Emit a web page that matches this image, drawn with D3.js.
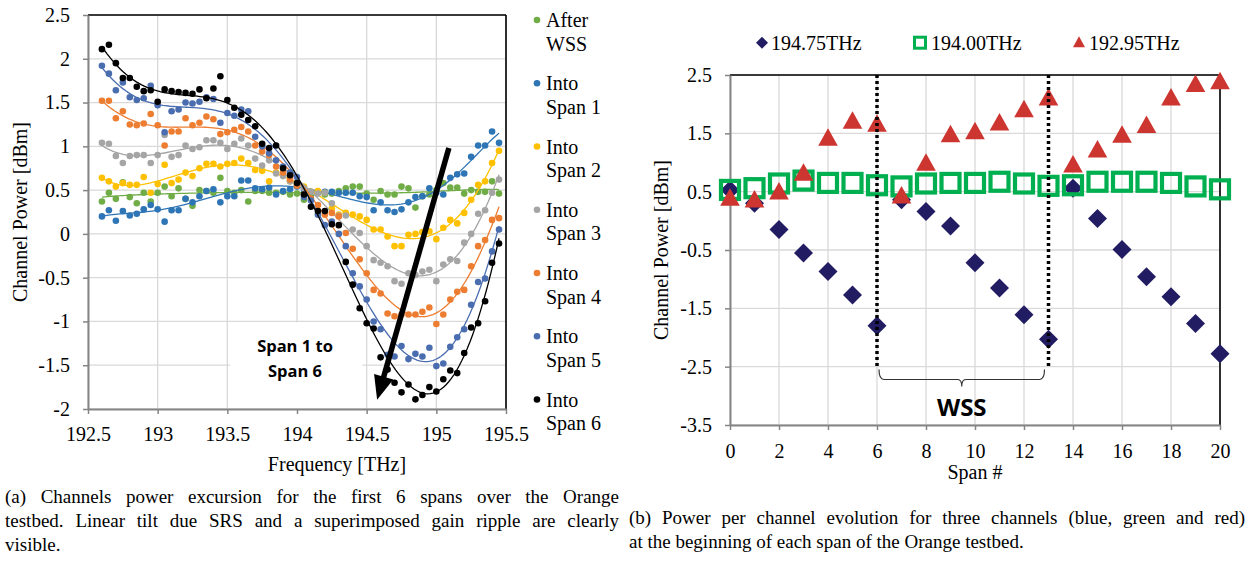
<!DOCTYPE html>
<html>
<head>
<meta charset="utf-8">
<script src="https://cdn.jsdelivr.net/npm/d3@7"></script>
<style>
  body { margin: 0; background: #fff; }
</style>
</head>
<body>
<svg id="fig" width="1250" height="562" font-family="'Liberation Serif', 'Times New Roman', serif"></svg>
<script>
// ---------- (a) power vs frequency, one value per channel ----------
var freqs = [192.60,192.65,192.70,192.75,192.80,192.85,192.90,192.95,193.00,193.05,
             193.10,193.15,193.20,193.25,193.30,193.35,193.40,193.45,193.50,193.55,
             193.60,193.65,193.70,193.75,193.80,193.85,193.90,193.95,194.00,194.05,
             194.10,194.15,194.20,194.25,194.30,194.35,194.40,194.45,194.50,194.55,
             194.60,194.65,194.70,194.75,194.80,194.85,194.90,194.95,195.00,195.05,
             195.10,195.15,195.20,195.25,195.30,195.35,195.40,195.45];

var afterWSS = [0.37,0.47,0.40,0.59,0.42,0.35,0.47,0.37,0.47,0.54, 0.43,0.52,0.40,0.32,0.50,0.49,0.47,0.64,0.49,0.47,
                0.50,0.37,0.49,0.49,0.47,0.47,0.48,0.45,0.46,0.39, 0.44,0.47,0.45,0.46,0.49,0.52,0.54,0.54,0.46,0.39,
                0.49,0.45,0.45,0.54,0.52,0.30,0.43,0.45,0.50,0.58, 0.53,0.53,0.46,0.50,0.48,0.48,0.60,0.46];
var intoSpan1 = [0.20,0.27,0.15,0.26,0.21,0.23,0.28,0.33,0.28,0.14, 0.27,0.27,0.40,0.36,0.43,0.49,0.51,0.36,0.43,0.43,
                 0.61,0.61,0.52,0.51,0.53,0.45,0.49,0.51,0.54,0.50, 0.48,0.48,0.48,0.48,0.47,0.47,0.47,0.43,0.42,0.27,
                 0.36,0.27,0.25,0.28,0.36,0.42,0.43,0.52,0.47,0.45, 0.64,0.68,0.69,0.88,1.01,1.01,1.17,1.04];
var intoSpan2 = [0.64,0.60,0.54,0.58,0.56,0.56,0.65,0.47,0.57,0.79, 0.58,0.62,0.70,0.66,0.75,0.80,0.80,0.77,0.80,0.81,
                 0.86,0.81,0.73,0.72,0.60,0.70,0.67,0.60,0.58,0.54, 0.48,0.49,0.47,0.29,0.22,0.24,0.22,0.20,0.16,0.05,
                 0.05,-0.03,-0.14,-0.14,-0.01,0.00,0.02,0.03,-0.06,0.07, 0.16,0.12,0.24,0.39,0.56,0.60,0.81,0.95];
var intoSpan3 = [1.04,1.03,0.89,0.81,0.89,0.90,0.90,0.81,0.90,1.13, 0.88,0.90,1.01,0.97,0.99,1.07,1.07,1.04,0.97,1.03,
                 1.09,1.01,0.86,0.78,0.84,0.69,0.66,0.60,0.57,0.52, 0.48,0.46,0.47,0.35,0.21,0.21,0.05,0.01,-0.14,-0.30,
                 -0.33,-0.37,-0.54,-0.57,-0.45,-0.47,-0.43,-0.41,-0.54,-0.35, -0.29,-0.31,-0.10,0.00,0.23,0.27,0.47,0.62];
var intoSpan4 = [1.52,1.52,1.32,1.40,1.25,1.24,1.26,1.37,1.24,1.01, 1.17,1.17,1.32,1.24,1.27,1.34,1.31,1.14,1.16,1.19,
                 1.22,1.17,1.01,0.94,0.90,0.77,0.70,0.62,0.55,0.45, 0.40,0.33,0.22,0.24,0.20,0.01,-0.17,-0.29,-0.45,-0.64,
                 -0.68,-0.91,-0.94,-0.92,-0.92,-0.92,-0.89,-0.84,-1.03,-0.92, -0.75,-0.66,-0.64,-0.37,-0.14,-0.07,0.16,0.18];
var intoSpan5 = [1.92,1.83,1.64,1.73,1.56,1.53,1.55,1.69,1.47,1.16, 1.40,1.42,1.50,1.49,1.51,1.56,1.54,1.27,1.38,1.35,
                 1.42,1.40,1.11,1.00,0.92,0.84,0.77,0.70,0.65,0.42, 0.38,0.22,0.10,0.14,0.00,-0.14,-0.45,-0.60,-0.75,-1.00,
                 -1.09,-1.38,-1.40,-1.28,-1.43,-1.37,-1.40,-1.30,-1.51,-1.48, -1.29,-1.18,-1.09,-0.81,-0.55,-0.51,-0.20,0.05];
var intoSpan6 = [2.11,2.16,1.95,1.78,1.78,1.68,1.63,1.64,1.51,1.65, 1.63,1.62,1.61,1.60,1.65,1.55,1.66,1.80,1.53,1.44,
                 1.36,1.30,1.23,1.03,0.98,1.01,0.75,0.67,0.58,0.45, 0.31,0.26,0.26,0.11,0.10,-0.32,-0.58,-0.85,-1.02,-1.08,
                 -1.41,-1.55,-1.70,-1.81,-1.72,-1.89,-1.84,-1.75,-1.80,-1.66, -1.56,-1.59,-1.36,-1.07,-1.02,-0.77,-0.33,-0.11];

var xTicksA = [192.5, 193, 193.5, 194, 194.5, 195, 195.5];
var yTicksA = [2.5, 2, 1.5, 1, 0.5, 0, -0.5, -1, -1.5, -2];

// ---------- (b) power per span for three channels ----------
var spans = [0,1,2,3,4,5,6,7,8,9,10,11,12,13,14,15,16,17,18,19,20];
var ch19475 = [0.53,0.30,-0.15,-0.55,-0.87,-1.27,-1.80,0.36,0.16,-0.09,-0.72,-1.15,-1.61,-2.03,0.56,0.04,-0.49,-0.96,-1.30,-1.76,-2.28];
var ch19400 = [0.53,0.56,0.64,0.69,0.65,0.65,0.61,0.59,0.64,0.65,0.65,0.67,0.64,0.60,0.61,0.67,0.67,0.67,0.65,0.59,0.54];
var ch19295 = [0.36,0.33,0.47,0.79,1.39,1.68,1.63,0.40,0.96,1.45,1.50,1.65,1.88,2.08,0.93,1.19,1.44,1.61,2.08,2.31,2.36];
var wssSpans = [6, 13];

var xTicksB = [0,2,4,6,8,10,12,14,16,18,20];
var yTicksB = [2.5, 1.5, 0.5, -0.5, -1.5, -2.5, -3.5];

var svg = d3.select("#fig");
svg.append("rect").attr("width", 1250).attr("height", 562).attr("fill", "#fff");

var gridCol = "#d9d9d9", axisCol = "#858585";
var serif = "'Liberation Serif', 'Times New Roman', serif";
var sans = "'Open Sans', 'Noto Sans', sans-serif";

// least squares polynomial (Excel style trendline), x normalised to [-1,1]
function polyFit(xs, ys, deg) {
  var n = deg + 1, A = [], b = [];
  for (var i = 0; i < n; i++) { A.push(new Array(n).fill(0)); b.push(0); }
  xs.forEach(function(x, k) {
    var p = [1];
    for (var j = 1; j < n; j++) p.push(p[j-1] * x);
    for (var i = 0; i < n; i++) {
      b[i] += p[i] * ys[k];
      for (var j = 0; j < n; j++) A[i][j] += p[i] * p[j];
    }
  });
  for (var c = 0; c < n; c++) {
    var piv = c;
    for (var r = c+1; r < n; r++) if (Math.abs(A[r][c]) > Math.abs(A[piv][c])) piv = r;
    var t = A[c]; A[c] = A[piv]; A[piv] = t; t = b[c]; b[c] = b[piv]; b[piv] = t;
    for (var r = c+1; r < n; r++) {
      var f = A[r][c] / A[c][c];
      for (var j = c; j < n; j++) A[r][j] -= f * A[c][j];
      b[r] -= f * b[c];
    }
  }
  var coef = new Array(n).fill(0);
  for (var r = n-1; r >= 0; r--) {
    var s = b[r];
    for (var j = r+1; j < n; j++) s -= A[r][j] * coef[j];
    coef[r] = s / A[r][r];
  }
  return coef;
}

function styleAxis(g, size) {
  g.attr("font-family", serif);
  g.select(".domain").attr("stroke", axisCol).attr("stroke-width", 2);
  g.selectAll(".tick line").attr("stroke", axisCol).attr("stroke-width", 1.5);
  g.selectAll(".tick text").attr("font-size", size).attr("fill", "#000");
}

// =================== chart (a) ===================
var xA = d3.scaleLinear().domain([192.5, 195.5]).range([88, 506]);
var yA = d3.scaleLinear().domain([-2, 2.5]).range([409, 15]);
var gA = svg.append("g");

gA.selectAll(".gxa").data(xTicksA).join("line")
  .attr("x1", d => xA(d)).attr("x2", d => xA(d))
  .attr("y1", yA(-2)).attr("y2", yA(2.5))
  .attr("stroke", gridCol).attr("stroke-width", 1.3);
gA.selectAll(".gya").data(yTicksA).join("line")
  .attr("x1", xA(192.5)).attr("x2", xA(195.5))
  .attr("y1", d => yA(d)).attr("y2", d => yA(d))
  .attr("stroke", gridCol).attr("stroke-width", 1.3);

// white box behind the annotation
gA.append("rect")
  .attr("x", xA(193.52)).attr("y", yA(-1.01))
  .attr("width", xA(194.47) - xA(193.52)).attr("height", yA(-2) - yA(-1.01) - 1)
  .attr("fill", "#fff");

gA.append("line").attr("x1", xA(192.5)).attr("x2", xA(195.5)).attr("y1", yA(2.5)).attr("y2", yA(2.5))
  .attr("stroke", "#000").attr("stroke-width", 1.6);
gA.append("line").attr("x1", xA(195.5)).attr("x2", xA(195.5)).attr("y1", yA(2.5)).attr("y2", yA(-2))
  .attr("stroke", "#000").attr("stroke-width", 1.6);

var axYA = gA.append("g").attr("transform", "translate(" + xA(192.5) + ",0)")
  .call(d3.axisLeft(yA).tickValues(yTicksA).tickSize(5).tickSizeOuter(0).tickPadding(13).tickFormat(d => String(d)));
styleAxis(axYA, 20);
var axXA = gA.append("g").attr("transform", "translate(0," + yA(-2) + ")")
  .call(d3.axisBottom(xA).tickValues(xTicksA).tickSize(5).tickSizeOuter(0).tickPadding(13).tickFormat(d => String(d)));
styleAxis(axXA, 20);

var seriesA = [
  { label: ["After", "WSS"], vals: afterWSS, color: "#70AD47" },
  { label: ["Into", "Span 1"], vals: intoSpan1, color: "#2E75B6" },
  { label: ["Into", "Span 2"], vals: intoSpan2, color: "#FFC000" },
  { label: ["Into", "Span 3"], vals: intoSpan3, color: "#A5A5A5" },
  { label: ["Into", "Span 4"], vals: intoSpan4, color: "#ED7D31" },
  { label: ["Into", "Span 5"], vals: intoSpan5, color: "#4A6DB0" },
  { label: ["Into", "Span 6"], vals: intoSpan6, color: "#000000" }
];

var fMid = 194.025, fHalf = 1.425;
var lineA = d3.line().x(d => xA(d[0])).y(d => yA(d[1]));
seriesA.forEach(function(s) {
  var g = gA.append("g");
  g.selectAll("circle").data(s.vals).join("circle")
    .attr("cx", (d, i) => xA(freqs[i])).attr("cy", d => yA(d))
    .attr("r", 3.3).attr("fill", s.color);
  var coef = polyFit(freqs.map(f => (f - fMid) / fHalf), s.vals, 6);
  var pts = d3.range(0, 151).map(function(k) {
    var f = freqs[0] + (freqs[freqs.length-1] - freqs[0]) * k / 150;
    var t = (f - fMid) / fHalf, v = 0;
    for (var j = coef.length - 1; j >= 0; j--) v = v * t + coef[j];
    return [f, v];
  });
  g.append("path").attr("d", lineA(pts)).attr("fill", "none")
    .attr("stroke", s.color).attr("stroke-width", 1.3);
});

// legend (a)
seriesA.forEach(function(s, i) {
  var cy = 20 + i * 63.25;
  gA.append("circle").attr("cx", 537).attr("cy", cy).attr("r", 3.3).attr("fill", s.color);
  gA.append("text").attr("x", 546).attr("y", cy + 7).attr("font-size", 20).text(s.label[0]);
  gA.append("text").attr("x", 546).attr("y", cy + 30.5).attr("font-size", 20).text(s.label[1]);
});

// arrow Span 1 -> Span 6
var a0 = [xA(195.09), yA(0.98)], a1 = [xA(194.575), yA(-1.895)];
var dx = a1[0] - a0[0], dy = a1[1] - a0[1], len = Math.hypot(dx, dy);
var ux = dx / len, uy = dy / len, headL = 24, headW = 10;
var hb = [a1[0] - ux * headL, a1[1] - uy * headL];
gA.append("line").attr("x1", a0[0]).attr("y1", a0[1]).attr("x2", hb[0] + ux * 2).attr("y2", hb[1] + uy * 2)
  .attr("stroke", "#000").attr("stroke-width", 5.5);
gA.append("polygon")
  .attr("points", [a1, [hb[0] - uy * headW, hb[1] + ux * headW], [hb[0] + uy * headW, hb[1] - ux * headW]]
    .map(p => p.join(",")).join(" "))
  .attr("fill", "#000");

gA.append("text").attr("x", 295).attr("y", 352).attr("text-anchor", "middle")
  .attr("font-family", sans).attr("font-weight", 700).attr("font-size", 16.5).text("Span 1 to");
gA.append("text").attr("x", 295).attr("y", 377).attr("text-anchor", "middle")
  .attr("font-family", sans).attr("font-weight", 700).attr("font-size", 16.5).text("Span 6");

gA.append("text").attr("transform", "translate(27,212) rotate(-90)").attr("text-anchor", "middle")
  .attr("font-size", 20).text("Channel Power [dBm]");
gA.append("text").attr("x", 337).attr("y", 471).attr("text-anchor", "middle")
  .attr("font-size", 20).text("Frequency [THz]");

// =================== chart (b) ===================
var xB = d3.scaleLinear().domain([0, 20]).range([730, 1220]);
var yB = d3.scaleLinear().domain([-3.5, 2.5]).range([425, 75]);
var gB = svg.append("g");

gB.selectAll(".gxb").data(xTicksB).join("line")
  .attr("x1", d => xB(d)).attr("x2", d => xB(d))
  .attr("y1", yB(-3.5)).attr("y2", yB(2.5))
  .attr("stroke", gridCol).attr("stroke-width", 1.3);
gB.selectAll(".gyb").data(yTicksB).join("line")
  .attr("x1", xB(0)).attr("x2", xB(20))
  .attr("y1", d => yB(d)).attr("y2", d => yB(d))
  .attr("stroke", gridCol).attr("stroke-width", 1.3);

gB.append("line").attr("x1", xB(0)).attr("x2", xB(20)).attr("y1", yB(2.5)).attr("y2", yB(2.5))
  .attr("stroke", "#000").attr("stroke-width", 1.6);
gB.append("line").attr("x1", xB(20)).attr("x2", xB(20)).attr("y1", yB(2.5)).attr("y2", yB(-3.5))
  .attr("stroke", "#000").attr("stroke-width", 1.6);

var axYB = gB.append("g").attr("transform", "translate(" + xB(0) + ",0)")
  .call(d3.axisLeft(yB).tickValues(yTicksB).tickSize(5).tickSizeOuter(0).tickPadding(13).tickFormat(d => String(d)));
styleAxis(axYB, 20);
var axXB = gB.append("g").attr("transform", "translate(0," + yB(-3.5) + ")")
  .call(d3.axisBottom(xB).tickValues(xTicksB).tickSize(5).tickSizeOuter(0).tickPadding(14).tickFormat(d => String(d)));
styleAxis(axXB, 20);

var navy = "#221D62", green = "#00B050", red = "#CD3530";
var diamondPath = "M0,-9.5L9.5,0L0,9.5L-9.5,0Z";
var triPath = "M0,-11.5L9.8,6L-9.8,6Z";

gB.selectAll(".dia").data(ch19475).join("path")
  .attr("d", diamondPath)
  .attr("transform", (d, i) => "translate(" + xB(spans[i]) + "," + yB(d) + ")")
  .attr("fill", navy);
gB.selectAll(".sq").data(ch19400).join("rect")
  .attr("x", (d, i) => xB(spans[i]) - 9).attr("y", d => yB(d) - 9)
  .attr("width", 18).attr("height", 18)
  .attr("fill", "none").attr("stroke", green).attr("stroke-width", 4.2);
gB.selectAll(".tri").data(ch19295).join("path")
  .attr("d", triPath)
  .attr("transform", (d, i) => "translate(" + xB(spans[i]) + "," + yB(d) + ")")
  .attr("fill", red);

// WSS positions
gB.selectAll(".wss").data(wssSpans).join("line")
  .attr("x1", d => xB(d)).attr("x2", d => xB(d))
  .attr("y1", yB(2.5)).attr("y2", yB(-2.5))
  .attr("stroke", "#000").attr("stroke-width", 3.5).attr("stroke-dasharray", "3,3");

var bl = xB(wssSpans[0]) + 2, br = xB(wssSpans[1]) - 4, bm = (bl + br) / 2;
var byT = yB(-2.55), byB = yB(-2.72);
gB.append("path")
  .attr("d", "M" + bl + "," + byT + "Q" + bl + "," + byB + " " + (bl + 5) + "," + byB +
    "L" + (bm - 4) + "," + byB + "Q" + bm + "," + byB + " " + bm + "," + (byB + 7) +
    "Q" + bm + "," + byB + " " + (bm + 4) + "," + byB +
    "L" + (br - 5) + "," + byB + "Q" + br + "," + byB + " " + br + "," + byT)
  .attr("fill", "none").attr("stroke", "#333").attr("stroke-width", 1.2);
gB.append("text").attr("x", bm).attr("y", 416).attr("text-anchor", "middle")
  .attr("font-family", sans).attr("font-weight", 700).attr("font-size", 24).text("WSS");

// legend (b)
var legY = 42.7;
gB.append("path").attr("d", "M0,-6L6,0L0,6L-6,0Z").attr("transform", "translate(762," + legY + ")").attr("fill", navy);
gB.append("text").attr("x", 771).attr("y", legY + 7).attr("font-size", 20).text("194.75THz");
gB.append("rect").attr("x", 914.5).attr("y", legY - 5.5).attr("width", 11).attr("height", 11)
  .attr("fill", "none").attr("stroke", green).attr("stroke-width", 3);
gB.append("text").attr("x", 931).attr("y", legY + 7).attr("font-size", 20).text("194.00THz");
gB.append("path").attr("d", "M0,-6.5L6,4.5L-6,4.5Z").attr("transform", "translate(1079," + legY + ")").attr("fill", red);
gB.append("text").attr("x", 1089).attr("y", legY + 7).attr("font-size", 20).text("192.95THz");

gB.append("text").attr("transform", "translate(668,250) rotate(-90)").attr("text-anchor", "middle")
  .attr("font-size", 20).text("Channel Power [dBm]");
gB.append("text").attr("x", 975).attr("y", 479).attr("text-anchor", "middle")
  .attr("font-size", 20).text("Span #");

// =================== captions ===================
function captionLine(str, x0, x1, y, just) {
  var g = svg.append("g");
  var words = str.split(" ");
  var ts = words.map(w => g.append("text").attr("y", y).attr("font-size", 19).text(w));
  var wd = ts.map(t => t.node().getComputedTextLength());
  var gap = just ? (x1 - x0 - d3.sum(wd)) / (words.length - 1) : 4.75;
  var x = x0;
  ts.forEach(function(t, i) { t.attr("x", x); x += wd[i] + gap; });
}
captionLine("(a) Channels power excursion for the first 6 spans over the Orange", 5, 619, 503, true);
captionLine("testbed. Linear tilt due SRS and a superimposed gain ripple are clearly", 5, 619, 527, true);
captionLine("visible.", 5, 619, 551, false);
captionLine("(b) Power per channel evolution for three channels (blue, green and red)", 629, 1245, 524, true);
captionLine("at the beginning of each span of the Orange testbed.", 629, 1245, 548, false);
</script>
</body>
</html>
